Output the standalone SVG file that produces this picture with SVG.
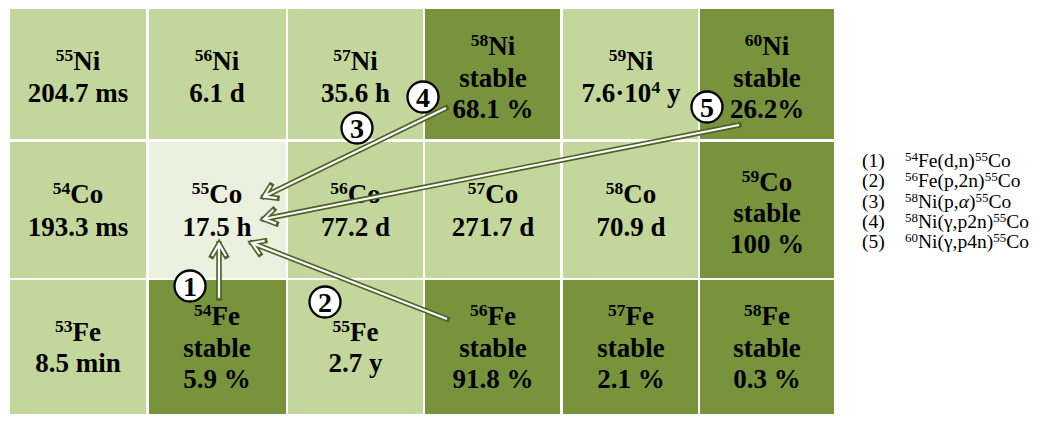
<svg xmlns="http://www.w3.org/2000/svg" xmlns:xlink="http://www.w3.org/1999/xlink" width="1059" height="426" viewBox="0 0 1059 426">
<style>
.L{fill:#c3d69b}.D{fill:#77933c}.P{fill:#ebf1de}
.t{font-family:'Liberation Serif','Times New Roman',Tinos,Times,serif;font-weight:700;font-size:27px;text-anchor:middle;fill:#000}
.s{font-size:17.5px}
.ao{fill:none;stroke:#4f6228;stroke-width:5.5;stroke-linejoin:miter;stroke-linecap:square}
.ai{fill:none;stroke:#fff;stroke-width:2.2;stroke-linejoin:miter;stroke-linecap:butt}
.c circle{fill:#fff;stroke:#000;stroke-width:2.3}
.c text{font-family:'Liberation Serif','Times New Roman',Tinos,Times,serif;font-weight:700;font-size:28px;text-anchor:middle}
.lg{font-family:'Liberation Serif','Times New Roman',Tinos,Times,serif;font-size:19.5px;fill:#000}
.ls{font-size:13px}
</style>
<defs>
<path id="a1" d="M219,298 L219,244 M212,256 L219,244 L226,256"/>
<path id="a2" d="M447,319 L252,243 M264.7,240.9 L252,243 L259.6,253.9"/>
<path id="a3" d="M446,108 L264,196.5 M276.9,198.1 L264,196.5 L270.8,185.5"/>
<path id="a5" d="M739,125 L264,219 M276.1,223.6 L264,219 L273.4,209.8"/>
</defs>
<rect width="1059" height="426" fill="#fff"/>
<g id="Ni55"><rect class="L" x="10" y="9" width="136" height="130"/><text class="t" x="78" y="70"><tspan class="s" dy="-9">55</tspan><tspan dy="9">Ni</tspan></text><text class="t" x="78" y="102">204.7 ms</text></g>
<g id="Ni56"><rect class="L" x="149" y="9" width="137" height="130"/><text class="t" x="217" y="70"><tspan class="s" dy="-9">56</tspan><tspan dy="9">Ni</tspan></text><text class="t" x="217" y="102">6.1 d</text></g>
<g id="Ni57"><rect class="L" x="288" y="9" width="135" height="130"/><text class="t" x="355.5" y="70"><tspan class="s" dy="-9">57</tspan><tspan dy="9">Ni</tspan></text><text class="t" x="355.5" y="102">35.6 h</text></g>
<g id="Ni58"><rect class="D" x="425" y="9" width="135" height="130"/><text class="t" x="493" y="55"><tspan class="s" dy="-9">58</tspan><tspan dy="9">Ni</tspan></text><text class="t" x="493" y="87">stable</text><text class="t" x="493" y="118">68.1 %</text></g>
<g id="Ni59"><rect class="L" x="563" y="9" width="135" height="130"/><text class="t" x="631" y="70"><tspan class="s" dy="-9">59</tspan><tspan dy="9">Ni</tspan></text><text class="t" x="631" y="102">7.6·10<tspan class="s" dy="-9">4</tspan><tspan dy="9"> y</tspan></text></g>
<g id="Ni60"><rect class="D" x="700" y="9" width="134" height="130"/><text class="t" x="767" y="55"><tspan class="s" dy="-9">60</tspan><tspan dy="9">Ni</tspan></text><text class="t" x="767" y="87">stable</text><text class="t" x="767" y="118">26.2%</text></g>

<g id="Co54"><rect class="L" x="10" y="142" width="136" height="136"/><text class="t" x="78" y="203"><tspan class="s" dy="-9">54</tspan><tspan dy="9">Co</tspan></text><text class="t" x="78" y="236">193.3 ms</text></g>
<g id="Co55"><rect class="P" x="149" y="142" width="137" height="136"/><text class="t" x="217" y="203"><tspan class="s" dy="-9">55</tspan><tspan dy="9">Co</tspan></text><text class="t" x="217" y="236">17.5 h</text></g>
<g id="Co56"><rect class="L" x="288" y="142" width="135" height="136"/><text class="t" x="355.5" y="203"><tspan class="s" dy="-9">56</tspan><tspan dy="9">Co</tspan></text><text class="t" x="355.5" y="236">77.2 d</text></g>
<g id="Co57"><rect class="L" x="425" y="142" width="135" height="136"/><text class="t" x="493" y="203"><tspan class="s" dy="-9">57</tspan><tspan dy="9">Co</tspan></text><text class="t" x="493" y="236">271.7 d</text></g>
<g id="Co58"><rect class="L" x="563" y="142" width="135" height="136"/><text class="t" x="631" y="203"><tspan class="s" dy="-9">58</tspan><tspan dy="9">Co</tspan></text><text class="t" x="631" y="236">70.9 d</text></g>
<g id="Co59"><rect class="D" x="700" y="142" width="134" height="136"/><text class="t" x="767" y="191"><tspan class="s" dy="-9">59</tspan><tspan dy="9">Co</tspan></text><text class="t" x="767" y="222">stable</text><text class="t" x="767" y="253">100 %</text></g>

<g id="Fe53"><rect class="L" x="10" y="280" width="136" height="134"/><text class="t" x="78" y="341"><tspan class="s" dy="-9">53</tspan><tspan dy="9">Fe</tspan></text><text class="t" x="78" y="372">8.5 min</text></g>
<g id="Fe54"><rect class="D" x="149" y="280" width="137" height="134"/><text class="t" x="217" y="325"><tspan class="s" dy="-9">54</tspan><tspan dy="9">Fe</tspan></text><text class="t" x="217" y="357">stable</text><text class="t" x="217" y="388">5.9 %</text></g>
<g id="Fe55"><rect class="L" x="288" y="280" width="135" height="134"/><text class="t" x="355.5" y="341"><tspan class="s" dy="-9">55</tspan><tspan dy="9">Fe</tspan></text><text class="t" x="355.5" y="372">2.7 y</text></g>
<g id="Fe56"><rect class="D" x="425" y="280" width="135" height="134"/><text class="t" x="493" y="325"><tspan class="s" dy="-9">56</tspan><tspan dy="9">Fe</tspan></text><text class="t" x="493" y="357">stable</text><text class="t" x="493" y="388">91.8 %</text></g>
<g id="Fe57"><rect class="D" x="563" y="280" width="135" height="134"/><text class="t" x="631" y="325"><tspan class="s" dy="-9">57</tspan><tspan dy="9">Fe</tspan></text><text class="t" x="631" y="357">stable</text><text class="t" x="631" y="388">2.1 %</text></g>
<g id="Fe58"><rect class="D" x="700" y="280" width="134" height="134"/><text class="t" x="767" y="325"><tspan class="s" dy="-9">58</tspan><tspan dy="9">Fe</tspan></text><text class="t" x="767" y="357">stable</text><text class="t" x="767" y="388">0.3 %</text></g>

<g id="connectors">
<use xlink:href="#a1" class="ao"/><use xlink:href="#a1" class="ai"/>
<use xlink:href="#a2" class="ao"/><use xlink:href="#a2" class="ai"/>
<use xlink:href="#a3" class="ao"/><use xlink:href="#a3" class="ai"/>
<use xlink:href="#a5" class="ao"/><use xlink:href="#a5" class="ai"/>
</g>

<g id="labels" class="c">
<g id="n1"><circle cx="190" cy="286" r="15.5"/><text x="190" y="295.5">1</text></g>
<g id="n2"><circle cx="325" cy="302" r="15.5"/><text x="325" y="311.5">2</text></g>
<g id="n3"><circle cx="357" cy="128" r="15.5"/><text x="357" y="137.5">3</text></g>
<g id="n4"><circle cx="423" cy="97" r="15.5"/><text x="423" y="106.5">4</text></g>
<g id="n5"><circle cx="707" cy="107" r="15.5"/><text x="707" y="116.5">5</text></g>
</g>

<g id="legend" class="lg">
<text x="862" y="167">(1)</text><text x="905" y="167"><tspan class="ls" dy="-6">54</tspan><tspan dy="6">Fe(d,n)</tspan><tspan class="ls" dy="-6">55</tspan><tspan dy="6">Co</tspan></text>
<text x="862" y="187">(2)</text><text x="905" y="187"><tspan class="ls" dy="-6">56</tspan><tspan dy="6">Fe(p,2n)</tspan><tspan class="ls" dy="-6">55</tspan><tspan dy="6">Co</tspan></text>
<text x="862" y="208">(3)</text><text x="905" y="208"><tspan class="ls" dy="-6">58</tspan><tspan dy="6">Ni(p,</tspan><tspan font-style="italic">α</tspan><tspan>)</tspan><tspan class="ls" dy="-6">55</tspan><tspan dy="6">Co</tspan></text>
<text x="862" y="228">(4)</text><text x="905" y="228"><tspan class="ls" dy="-6">58</tspan><tspan dy="6">Ni(γ,p2n)</tspan><tspan class="ls" dy="-6">55</tspan><tspan dy="6">Co</tspan></text>
<text x="862" y="248">(5)</text><text x="905" y="248"><tspan class="ls" dy="-6">60</tspan><tspan dy="6">Ni(γ,p4n)</tspan><tspan class="ls" dy="-6">55</tspan><tspan dy="6">Co</tspan></text>
</g>
</svg>
